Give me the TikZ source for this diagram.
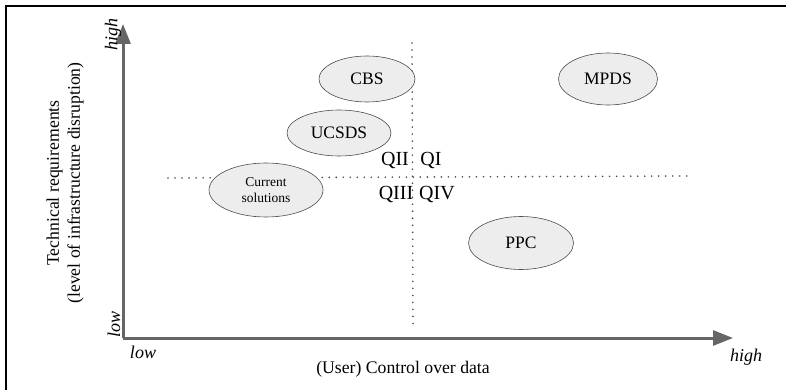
\documentclass[tikz,border=0pt]{standalone}
\usepackage{fontspec}
\setmainfont{Liberation Serif}
\usetikzlibrary{shapes.geometric,arrows.meta}
\begin{document}
\begin{tikzpicture}[x=1pt,y=-1pt,
  axis/.style={draw=black!60,line width=3pt,-{Triangle[length=20pt,width=15pt]}},
  blob/.style={ellipse,draw=black!70,fill=black!7,line width=0.6pt,inner sep=0pt,font=\fontsize{17.5}{19}\selectfont},
  quadline/.style={draw=black!70,line width=1.8pt,dash pattern=on 0.01pt off 7pt,line cap=round},
  quad/.style={font=\fontsize{20}{21}\selectfont,inner sep=0pt},
  tick/.style={font=\fontsize{18}{19}\selectfont\itshape,inner sep=0pt},
  axlabel/.style={font=\fontsize{17.7}{21}\selectfont,inner sep=0pt,align=center}]
\useasboundingbox (0,0) rectangle (786,390);
% frame (top and left edges)
\draw[line width=2pt] (6,390) -- (6,6) -- (786,6);
% axes
\coordinate (origin) at (123,338);
\coordinate (ytip) at (123,24);
\coordinate (xtip) at (733,338);
\draw[axis] (origin) -- (ytip);
\draw[axis] (origin) -- (xtip);
% quadrant dividers
\coordinate (vtop) at (412,43);
\coordinate (vbot) at (413,325);
\coordinate (hl) at (168,178);
\coordinate (hr) at (688,176);
\draw[quadline] (vtop) -- (vbot);
\draw[quadline] (hl) -- (hr);
% quadrant labels
\node[quad] (q2) at (395,161) {QII};
\node[quad] (q1) at (431,161) {QI};
\node[quad] (q3) at (396,194) {QIII};
\node[quad] (q4) at (437,194) {QIV};
% approaches
\node[blob,minimum width=96pt,minimum height=46pt] (cbs) at (367,79) {CBS};
\node[blob,minimum width=99pt,minimum height=52pt] (mpds) at (608,79) {MPDS};
\node[blob,minimum width=104pt,minimum height=46pt] (ucsds) at (339,133) {UCSDS};
\node[blob,minimum width=114pt,minimum height=54pt,align=center,font=\fontsize{13.5}{16}\selectfont] (cur) at (266,190) {Current\\solutions};
\node[blob,minimum width=105pt,minimum height=53pt] (ppc) at (521,243) {PPC};
% axis ends
\node[tick,rotate=90] (yhigh) at (113,35) {high};
\node[tick,rotate=90] (ylow) at (114,324) {low};
\node[tick] (xlow) at (143,352) {low};
\node[tick] (xhigh) at (746,357) {high};
% axis titles
\node[axlabel] (xlab) at (403,369) {(User) Control over data};
\node[axlabel,rotate=90] (ylab) at (65,183) {Technical requirements\\(level of infrastructure disruption)};
\end{tikzpicture}
\end{document}
